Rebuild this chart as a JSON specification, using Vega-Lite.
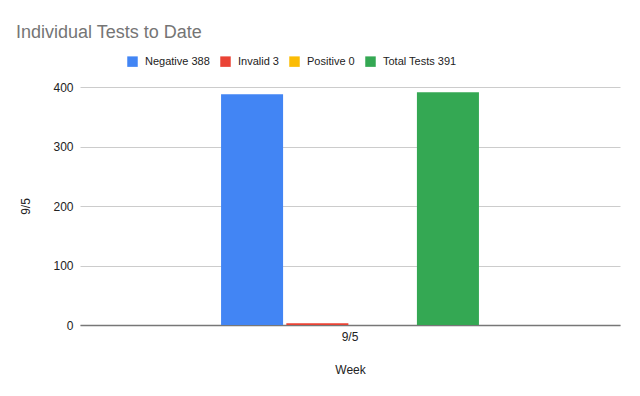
{
  "$schema": "https://vega.github.io/schema/vega-lite/v6.json",
  "width": 540,
  "height": 238,
  "autosize": {"type": "none"},
  "padding": {"left": 80, "top": 87, "right": 20, "bottom": 71},
  "background": "white",
  "title": {
    "text": "Individual Tests to Date",
    "anchor": "start",
    "frame": "group",
    "dx": -64,
    "offset": 14,
    "fontSize": 18,
    "font": "Liberation Sans",
    "fontWeight": "normal",
    "color": "#757575"
  },
  "data": {
    "values": [
      {"week": "9/5", "series": "Negative 388", "value": 388},
      {"week": "9/5", "series": "Invalid 3", "value": 3},
      {"week": "9/5", "series": "Positive 0", "value": 0},
      {"week": "9/5", "series": "Total Tests 391", "value": 391}
    ]
  },
  "mark": {"type": "bar"},
  "encoding": {
    "x": {
      "field": "week",
      "type": "nominal",
      "scale": {"paddingInner": 0, "paddingOuter": 0.547},
      "axis": {
        "title": "Week",
        "labelAngle": 0,
        "ticks": false,
        "domainColor": "#777777",
        "domainWidth": 1.5,
        "labelPadding": 6,
        "titlePadding": 22,
        "labelFontSize": 12,
        "titleFontSize": 12,
        "titleFontWeight": "normal",
        "labelFont": "Liberation Sans",
        "titleFont": "Liberation Sans",
        "labelColor": "#222222",
        "titleColor": "#222222"
      }
    },
    "xOffset": {
      "field": "series",
      "type": "nominal",
      "sort": ["Negative 388", "Invalid 3", "Positive 0", "Total Tests 391"],
      "scale": {"paddingInner": 0.05, "paddingOuter": 0}
    },
    "y": {
      "field": "value",
      "type": "quantitative",
      "scale": {"domain": [0, 400], "nice": false},
      "axis": {
        "title": "9/5",
        "values": [0, 100, 200, 300, 400],
        "domain": false,
        "ticks": false,
        "gridColor": "#cccccc",
        "labelPadding": 7,
        "titlePadding": 20,
        "labelFontSize": 12,
        "titleFontSize": 12,
        "titleFontWeight": "normal",
        "labelFont": "Liberation Sans",
        "titleFont": "Liberation Sans",
        "labelColor": "#222222",
        "titleColor": "#222222"
      }
    },
    "color": {
      "field": "series",
      "type": "nominal",
      "sort": ["Negative 388", "Invalid 3", "Positive 0", "Total Tests 391"],
      "scale": {
        "domain": ["Negative 388", "Invalid 3", "Positive 0", "Total Tests 391"],
        "range": ["#4285F4", "#EA4335", "#FBBC04", "#34A853"]
      },
      "legend": {
        "title": null,
        "orient": "none",
        "direction": "horizontal",
        "legendX": 47,
        "legendY": -31,
        "symbolType": "square",
        "symbolSize": 110,
        "symbolStrokeWidth": 0,
        "symbolOpacity": 1,
        "labelFontSize": 11,
        "labelFont": "Liberation Sans",
        "labelColor": "#222222",
        "labelOffset": 7,
        "columnPadding": 10
      }
    }
  },
  "config": {"view": {"stroke": null}}
}
